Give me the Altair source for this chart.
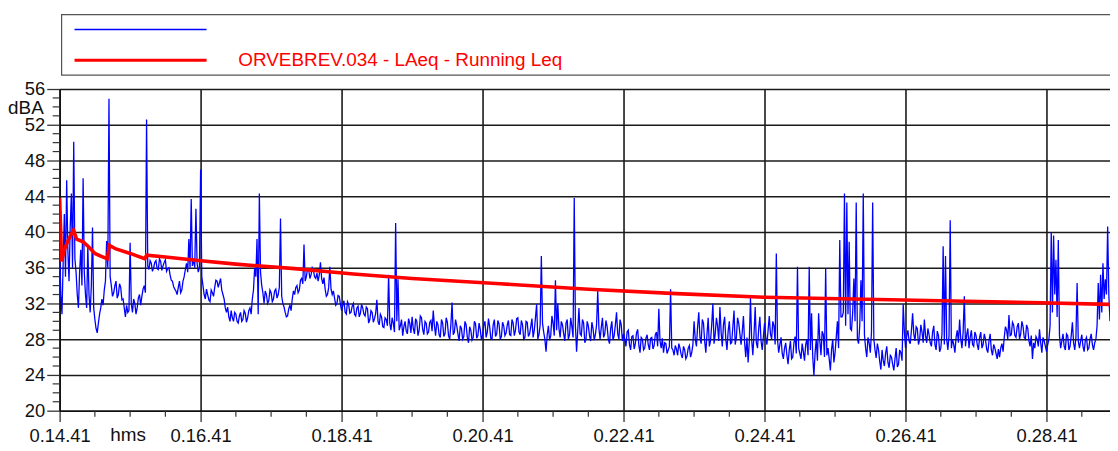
import altair as alt
import pandas as pd

# ---- data ----
# measured trace, one value per second; "even" lists hold the even seconds,
# "odd" lists the odd seconds of the same 2-minute stretch
blue_even_a = [
    38.5, 30.8, 42.0, 45.8, 34.5, 44.3, 50.1, 35.5, 31.5, 38.0,
    46.0, 33.0, 38.5, 31.0, 40.5, 30.2, 28.7, 30.8, 32.5, 33.5,
    39.0, 54.9, 34.0, 33.2, 34.5, 33.0, 33.8, 32.5, 30.5, 31.0,
    38.8, 31.0, 32.0, 31.5, 33.0, 32.8, 34.0, 52.6, 35.8, 36.5,
    36.0, 36.8, 35.8, 36.7, 36.2, 36.9, 35.9, 35.2, 34.5, 33.6,
    33.0, 34.5, 33.5, 35.0, 36.5, 39.2, 43.7, 37.0, 42.6, 35.5,
]
blue_odd_a = [
    33.0, 36.5, 35.0, 38.0, 40.5, 36.0, 37.0, 33.0, 35.5, 34.0,
    35.5, 31.5, 33.0, 34.0, 31.5, 29.2, 29.8, 31.5, 31.8, 34.5,
    36.0, 35.0, 32.8, 34.0, 32.6, 34.2, 32.4, 31.5, 31.8, 31.2,
    32.0, 32.5, 30.8, 32.6, 31.8, 33.6, 33.2, 36.2, 36.8, 35.6,
    36.6, 35.9, 37.0, 35.7, 36.6, 35.6, 36.0, 34.6, 33.9, 33.4,
    33.8, 33.2, 34.5, 35.8, 35.5, 36.0, 36.2, 36.0, 36.5, 36.0,
]
blue_even_b = [
    47.0, 34.0, 32.5, 33.0, 32.2, 33.2, 33.8, 34.5, 34.3, 33.5,
    32.5, 31.0, 30.5, 31.2, 30.0, 30.8, 29.8, 31.0, 30.2, 30.9,
    30.4, 31.5, 32.5, 36.0, 39.2, 44.3, 34.0, 32.0, 33.0, 32.3,
    33.2, 32.5, 33.6, 33.0, 41.5, 32.0, 31.0, 30.6, 31.8, 32.5,
    33.0, 34.0, 33.5, 34.8, 38.6, 35.0, 35.8, 35.2, 35.7, 34.8,
    34.5, 36.6, 34.2, 33.6, 33.0, 36.1, 33.0, 32.6, 32.0, 32.8,
]
blue_odd_b = [
    35.0, 33.0, 33.6, 32.4, 33.5, 32.8, 34.6, 33.8, 34.8, 33.0,
    31.5, 31.6, 30.0, 30.4, 31.0, 30.0, 30.6, 30.0, 31.2, 29.9,
    31.2, 30.8, 33.5, 35.0, 30.8, 35.5, 33.2, 33.4, 32.0, 33.5,
    32.2, 33.4, 32.6, 33.8, 32.8, 31.6, 30.5, 31.4, 31.2, 33.4,
    33.8, 33.2, 34.6, 34.2, 34.5, 35.9, 34.8, 36.0, 35.0, 35.4,
    35.2, 34.8, 34.9, 32.8, 33.8, 33.6, 33.4, 31.8, 32.9, 31.9,
]
blue_even_c = [
    31.2, 32.3, 30.8, 31.9, 31.0, 32.0, 30.6, 31.7, 30.9, 31.5,
    30.6, 31.4, 30.2, 31.0, 30.3, 32.4, 29.6, 30.5, 29.3, 30.2,
    35.2, 29.0, 29.8, 41.0, 34.7, 29.5, 28.4, 30.0, 28.6, 29.8,
    30.5, 28.6, 30.0, 29.0, 30.4, 28.5, 29.8, 28.8, 30.1, 31.2,
    28.4, 29.6, 28.2, 29.8, 28.6, 29.9, 28.0, 32.1, 28.8, 29.5,
    27.8, 29.2, 28.3, 29.6, 27.6, 29.0, 28.2, 29.7, 28.4, 29.1,
]
blue_odd_c = [
    31.8, 31.0, 32.2, 30.9, 31.7, 30.8, 31.5, 30.5, 31.9, 30.8,
    31.6, 29.8, 31.2, 29.9, 30.9, 30.0, 30.8, 29.4, 30.4, 29.5,
    29.8, 30.4, 28.8, 30.0, 29.0, 30.2, 29.4, 28.9, 30.3, 28.7,
    29.2, 30.3, 28.4, 30.6, 29.1, 30.0, 28.6, 29.9, 28.9, 29.5,
    30.0, 28.5, 30.2, 28.3, 30.4, 28.4, 29.6, 28.5, 30.2, 28.6,
    29.5, 28.0, 30.0, 28.2, 29.4, 27.9, 30.0, 28.1, 29.8, 27.9,
]
blue_even_d = [
    28.5, 30.0, 28.8, 29.4, 28.0, 30.2, 28.6, 29.7, 28.3, 29.5,
    28.7, 30.1, 28.4, 29.8, 29.0, 30.4, 28.5, 29.6, 28.2, 29.9,
    28.6, 30.3, 29.0, 31.9, 28.5, 37.3, 28.8, 26.6, 29.5, 28.4,
    29.8, 34.6, 32.0, 28.2, 29.6, 27.8, 30.2, 28.5, 29.4, 43.8,
    26.6, 31.5, 28.4, 29.8, 28.0, 29.5, 27.8, 29.2, 28.5, 33.4,
    28.0, 30.4, 28.6, 29.4, 27.5, 30.0, 28.4, 31.0, 28.0, 29.6,
]
blue_odd_d = [
    29.6, 28.2, 30.3, 28.1, 29.6, 28.3, 30.1, 28.0, 29.9, 28.4,
    29.6, 28.5, 30.2, 28.4, 30.3, 28.8, 30.1, 28.0, 30.0, 28.3,
    29.4, 28.2, 30.4, 28.0, 29.6, 29.8, 28.0, 28.5, 27.9, 30.6,
    28.4, 29.0, 29.2, 30.0, 28.6, 29.8, 28.0, 30.4, 28.2, 29.5,
    29.0, 28.6, 30.2, 27.6, 30.0, 28.4, 29.9, 27.9, 29.6, 29.2,
    29.3, 28.2, 30.1, 28.0, 29.2, 27.9, 29.6, 28.6, 30.2, 27.8,
]
blue_even_e = [
    28.6, 27.2, 29.0, 26.8, 28.4, 27.5, 29.1, 26.5, 28.0, 27.0,
    28.5, 26.8, 28.2, 27.3, 28.8, 31.4, 27.0, 26.5, 27.5, 26.8,
    33.6, 26.8, 27.3, 26.2, 27.0, 25.9, 26.8, 26.1, 27.3, 26.5,
    30.0, 27.2, 31.0, 27.5, 29.8, 26.5, 30.4, 27.8, 32.0, 28.6,
    29.5, 31.6, 27.2, 30.5, 26.8, 30.0, 27.6, 31.2, 28.2, 29.8,
    27.4, 30.6, 26.0, 25.4, 32.6, 26.2, 31.6, 27.0, 30.5, 26.8,
]
blue_odd_e = [
    28.0, 28.8, 27.4, 28.3, 26.9, 28.7, 27.3, 28.2, 26.8, 28.1,
    27.4, 28.1, 26.9, 28.5, 27.2, 27.8, 28.1, 27.6, 26.4, 27.2,
    27.0, 26.2, 26.9, 27.5, 26.3, 27.2, 25.8, 27.0, 26.0, 27.4,
    28.0, 29.4, 28.2, 30.2, 27.8, 28.6, 27.2, 29.6, 27.5, 30.4,
    27.8, 28.8, 29.6, 28.0, 28.9, 27.5, 29.4, 27.4, 30.4, 28.6,
    28.8, 27.6, 28.2, 27.8, 28.0, 28.5, 27.6, 29.2, 27.8, 28.3,
]
blue_even_f = [
    29.8, 27.4, 30.6, 28.0, 29.5, 37.6, 26.5, 28.2, 25.8, 27.6,
    25.2, 27.8, 26.0, 28.3, 36.1, 26.4, 27.5, 25.6, 28.0, 36.1,
    30.9, 23.9, 28.0, 30.9, 26.2, 28.5, 35.9, 27.0, 24.5, 28.0,
    26.5, 30.0, 39.1, 30.5, 44.3, 43.3, 38.9, 29.0, 34.8, 43.3,
    27.5, 34.6, 44.3, 27.0, 28.2, 26.5, 43.3, 26.8, 27.5, 25.5,
    26.8, 25.0, 27.2, 24.8, 26.0, 24.5, 27.0, 25.2, 26.5, 31.9,
]
blue_odd_f = [
    28.2, 29.0, 28.6, 30.0, 27.4, 28.0, 27.4, 26.4, 27.0, 26.2,
    26.8, 25.8, 27.6, 26.4, 27.0, 25.8, 26.6, 27.4, 26.2, 26.8,
    26.0, 26.5, 25.6, 27.8, 28.9, 26.0, 26.2, 25.8, 26.8, 25.4,
    28.2, 27.0, 30.5, 31.0, 29.5, 30.8, 29.2, 31.0, 30.0, 28.0,
    29.5, 30.0, 28.5, 26.0, 27.6, 28.8, 28.0, 25.9, 26.8, 24.6,
    25.6, 26.4, 25.4, 26.2, 25.2, 25.8, 24.9, 26.8, 25.6, 28.8,
]
blue_even_g = [
    27.0, 29.0, 27.5, 30.9, 27.8, 29.2, 28.0, 28.8, 30.2, 27.6,
    28.5, 27.2, 29.5, 26.8, 28.4, 27.0, 38.4, 37.3, 26.8, 41.3,
    28.0, 26.5, 29.0, 30.2, 27.0, 32.8, 28.5, 27.0, 29.0, 27.2,
    28.4, 26.8, 28.8, 27.4, 28.0, 26.5, 28.6, 26.2, 27.0, 25.8,
    26.0, 27.5, 28.2, 29.0, 30.7, 28.5, 29.6, 28.2, 29.8, 28.6,
    29.4, 28.0, 29.2, 27.2, 25.8, 27.0, 28.0, 29.1, 26.5, 27.8,
]
blue_odd_g = [
    28.4, 27.8, 29.0, 28.6, 29.4, 27.4, 29.6, 27.6, 28.4, 29.2,
    27.6, 28.8, 27.4, 28.9, 26.6, 28.6, 27.4, 28.0, 28.4, 27.0,
    27.4, 28.2, 27.6, 28.0, 28.8, 27.2, 29.2, 28.2, 27.4, 28.8,
    27.4, 28.2, 27.0, 28.6, 26.9, 27.8, 26.8, 27.4, 26.4, 26.9,
    27.0, 26.6, 29.4, 28.0, 28.4, 29.9, 28.4, 29.4, 28.0, 30.0,
    28.2, 29.6, 27.8, 28.4, 27.6, 28.3, 27.2, 27.6, 28.2, 27.2,
]
blue_even_h = [
    26.6, 28.0, 40.0, 39.6, 36.9, 39.1, 27.0, 28.6, 26.8, 28.4,
    27.2, 29.9, 26.8, 34.3, 27.0, 28.5, 26.6, 28.2, 27.0, 28.6,
    26.8, 28.0, 34.3, 35.2, 36.5, 34.7, 40.6, 30.0,
]
blue_odd_h = [
    27.4, 29.5, 31.0, 33.0, 30.5, 28.4, 27.8, 27.2, 28.6, 26.8,
    28.4, 27.6, 28.2, 27.8, 27.8, 27.2, 27.9, 26.8, 28.0, 27.4,
    27.6, 29.5, 30.2, 31.0, 32.5, 33.0, 33.0,
]

red_times = [0, 1.7, 4, 7, 11.8, 14.5, 20, 25, 30, 35, 40.6, 42.3, 48, 60, 72.5,
             74, 90, 118, 150, 200, 250, 300, 375, 450, 525, 600, 675, 750, 825, 894]
red_values = [43.8, 36.7, 38.0, 39.0, 40.2, 39.2, 38.9, 38.3, 37.6, 37.3, 37.0, 38.5, 38.1,
              37.6, 37.0, 37.4, 37.2, 36.8, 36.4, 35.9, 35.3, 34.8, 34.2, 33.6, 33.1, 32.7,
              32.5, 32.3, 32.1, 31.9]

x_major = [0, 120, 240, 360, 480, 600, 720, 840]
x_labels = ["0.14.41", "0.16.41", "0.18.41", "0.20.41", "0.22.41", "0.24.41", "0.26.41", "0.28.41"]
x_minor = [30, 60, 90, 150, 180, 210, 270, 300, 330, 390, 420, 450, 510, 540, 570,
           630, 660, 690, 750, 780, 810, 870]
y_major = [20, 24, 28, 32, 36, 40, 44, 48, 52, 56]
y_minor = [v for v in range(20, 57) if v not in y_major]

legend_text = "ORVEBREV.034 - LAeq - Running Leq"
y_unit = "dBA"
x_unit = "hms"

# ---- build ----
evens = (blue_even_a + blue_even_b + blue_even_c + blue_even_d +
         blue_even_e + blue_even_f + blue_even_g + blue_even_h)
odds = (blue_odd_a + blue_odd_b + blue_odd_c + blue_odd_d +
        blue_odd_e + blue_odd_f + blue_odd_g + blue_odd_h)
blue_values = []
for i, e in enumerate(evens):
    blue_values.append(e)
    if i < len(odds):
        blue_values.append(odds[i])
blue_df = pd.DataFrame({"t": list(range(len(blue_values))), "v": blue_values})
red_df = pd.DataFrame({"t": red_times, "v": red_values})

FONT = "Liberation Sans"
W, H = 1058, 324
xdom = [0, 894]
ydom = [20, 56]
xscale = alt.Scale(domain=xdom, nice=False, zero=False)
yscale = alt.Scale(domain=ydom, nice=False, zero=False)

label_expr = "[" + ",".join("'%s'" % s for s in x_labels) + "][round(datum.value/120)]"

x_axis = alt.Axis(values=x_major, tickCount=40, labelExpr=label_expr, grid=True,
                  gridColor="#1a1a1a", gridWidth=1.6, gridOpacity=1, tickSize=11,
                  tickColor="#333", tickWidth=1.3, domainColor="#111", domainWidth=1.6,
                  labelFont=FONT, labelFontSize=18.5, labelColor="#111", labelPadding=5,
                  labelFlush=False, labelOverlap=False, title=None)
y_axis = alt.Axis(values=y_major, tickCount=40, grid=True, gridColor="#1a1a1a", gridWidth=1.6,
                  gridOpacity=1, tickSize=13, tickColor="#333", tickWidth=1.3,
                  domainColor="#111", domainWidth=1.6, labelFont=FONT, labelFontSize=18.5,
                  labelColor="#111", labelPadding=2, labelFlush=False, labelOverlap=False,
                  title=None)

blue = alt.Chart(blue_df).mark_line(color="#0000ff", strokeWidth=1.3, clip=True).encode(
    x=alt.X("t:Q", scale=xscale, axis=x_axis),
    y=alt.Y("v:Q", scale=yscale, axis=y_axis),
)
red = alt.Chart(red_df).mark_line(color="#ff0000", strokeWidth=3.6, clip=True).encode(
    x=alt.X("t:Q", scale=xscale),
    y=alt.Y("v:Q", scale=yscale),
)

xminor_df = pd.DataFrame({"t": x_minor})
xminor = alt.Chart(xminor_df).mark_rule(color="#333", strokeWidth=1.2).encode(
    x=alt.X("t:Q", scale=xscale), y=alt.value(H), y2=alt.value(H + 6))
yminor_df = pd.DataFrame({"v": y_minor})
yminor = alt.Chart(yminor_df).mark_rule(color="#333", strokeWidth=1.2).encode(
    y=alt.Y("v:Q", scale=yscale), x=alt.value(-7), x2=alt.value(0))

one = pd.DataFrame({"k": [0]})
box = alt.Chart(one).mark_rect(fill="white", stroke="#555", strokeWidth=1.2).encode(
    x=alt.value(2), x2=alt.value(1080), y=alt.value(-75), y2=alt.value(-14))
leg_blue = alt.Chart(one).mark_rule(color="#0000ff", strokeWidth=1.5).encode(
    x=alt.value(15), x2=alt.value(148), y=alt.value(-60))
leg_red = alt.Chart(one).mark_rule(color="#ff0000", strokeWidth=3).encode(
    x=alt.value(15), x2=alt.value(148), y=alt.value(-29))
leg_text = alt.Chart(one).mark_text(align="left", baseline="alphabetic", font=FONT,
                                    fontSize=19, color="#ff0000").encode(
    x=alt.value(180), y=alt.value(-23), text=alt.value(legend_text))
yunit = alt.Chart(one).mark_text(align="right", baseline="middle", font=FONT,
                                 fontSize=19, color="#111").encode(
    x=alt.value(-16), y=alt.value(19), text=alt.value(y_unit))
xunit = alt.Chart(one).mark_text(align="center", baseline="middle", font=FONT,
                                 fontSize=19, color="#111").encode(
    x=alt.value(69), y=alt.value(349), text=alt.value(x_unit))

chart = alt.layer(blue, red, xminor, yminor, box, leg_blue, leg_red, leg_text, yunit, xunit).properties(
    width=W, height=H,
    autosize=alt.AutoSizeParams(type="none"),
    padding={"left": 52, "top": 80, "right": 0, "bottom": 39},
).configure_view(stroke=None).configure(background="white")

chart.save("out.html", embed_options={"renderer": "svg", "actions": False})
